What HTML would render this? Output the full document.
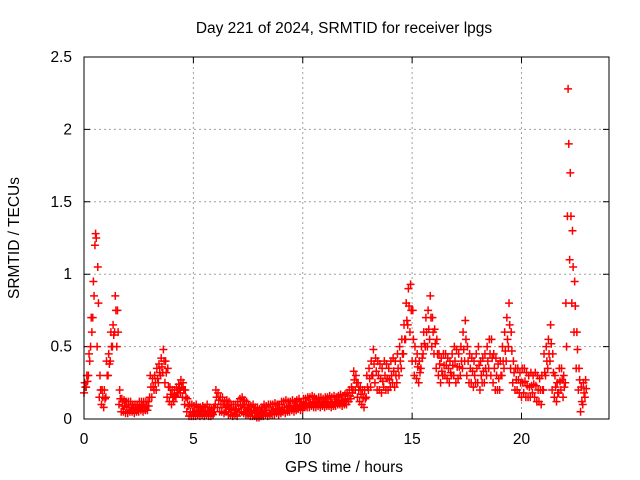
<!DOCTYPE html>
<html><head><meta charset="utf-8"><style>
body{margin:0;background:#fff}
svg{display:block;font-family:"Liberation Sans",sans-serif}
</style></head><body>
<svg id="chart" width="640" height="480" viewBox="0 0 640 480">
<rect width="640" height="480" fill="#fff"/>
<text x="344" y="33" font-size="15.5" text-anchor="middle" fill="#000">Day 221 of 2024, SRMTID for receiver lpgs</text>
<g id="grid"></g>
<g id="axes"></g>
<g id="marks"></g>
<rect x="84" y="57" width="525" height="362" fill="none" stroke="#000" stroke-width="1"/>
<text x="344" y="472" font-size="15.5" text-anchor="middle">GPS time / hours</text>
<text transform="translate(19,238) rotate(-90)" font-size="15.5" text-anchor="middle">SRMTID / TECUs</text>
</svg>
<script>
const xTicks=[0,5,10,15,20];
const yTicks=[0,0.5,1,1.5,2,2.5];
const yTickLabels=["0","0.5","1","1.5","2","2.5"];
const timeStep=0.1;
const upperValues=[0.25,0.3,0.45,0.7,0.95,1.28,1.05,0.3,0.2,0.2,
0.4,0.45,0.6,0.65,0.85,0.75,0.2,0.14,0.13,0.12,
0.12,0.12,0.1,0.1,0.1,0.12,0.12,0.12,0.12,0.12,
0.3,0.28,0.3,0.35,0.38,0.42,0.48,0.4,0.35,0.22,
0.2,0.2,0.22,0.24,0.27,0.25,0.2,0.14,0.1,0.1,
0.09,0.1,0.08,0.08,0.09,0.08,0.1,0.08,0.07,0.08,
0.2,0.18,0.15,0.15,0.12,0.13,0.12,0.1,0.1,0.1,
0.12,0.14,0.15,0.13,0.12,0.1,0.09,0.1,0.08,0.08,
0.07,0.08,0.1,0.09,0.1,0.1,0.1,0.11,0.1,0.1,
0.12,0.12,0.13,0.12,0.12,0.13,0.12,0.13,0.14,0.12,
0.14,0.14,0.15,0.15,0.16,0.15,0.14,0.15,0.15,0.14,
0.15,0.15,0.16,0.15,0.16,0.15,0.16,0.17,0.16,0.17,
0.18,0.2,0.22,0.33,0.3,0.25,0.22,0.2,0.2,0.3,
0.35,0.4,0.48,0.42,0.4,0.38,0.35,0.4,0.38,0.35,
0.4,0.42,0.4,0.45,0.5,0.55,0.65,0.8,0.9,0.93,
0.75,0.5,0.45,0.4,0.5,0.6,0.7,0.75,0.85,0.7,
0.62,0.55,0.45,0.42,0.45,0.45,0.42,0.4,0.45,0.5,
0.48,0.45,0.5,0.6,0.68,0.5,0.45,0.42,0.4,0.45,
0.5,0.4,0.42,0.45,0.5,0.55,0.55,0.45,0.42,0.38,
0.4,0.5,0.6,0.7,0.8,0.6,0.4,0.35,0.35,0.32,
0.35,0.35,0.32,0.3,0.32,0.3,0.32,0.3,0.28,0.3,
0.45,0.5,0.55,0.65,0.45,0.3,0.25,0.35,0.35,0.3,
0.8,2.28,1.7,1.3,0.95,0.6,0.35,0.22,0.25,0.27];
const midValues=[0.22,0.26,0.4,0.6,0.85,1.25,0.8,0.2,0.15,0.14,
0.3,0.38,0.5,0.58,0.75,0.6,0.14,0.09,0.09,0.08,
0.08,0.08,0.07,0.07,0.07,0.08,0.09,0.08,0.09,0.09,
0.22,0.22,0.25,0.28,0.32,0.36,0.4,0.32,0.22,0.17,
0.15,0.16,0.18,0.21,0.22,0.2,0.15,0.09,0.05,0.05,
0.05,0.06,0.05,0.05,0.06,0.05,0.06,0.05,0.04,0.05,
0.15,0.13,0.1,0.1,0.08,0.09,0.07,0.06,0.06,0.06,
0.07,0.09,0.1,0.08,0.07,0.06,0.05,0.06,0.05,0.04,
0.04,0.05,0.06,0.06,0.06,0.06,0.06,0.07,0.07,0.06,
0.08,0.08,0.08,0.09,0.08,0.09,0.09,0.09,0.1,0.09,
0.1,0.11,0.11,0.11,0.12,0.11,0.11,0.12,0.11,0.11,
0.11,0.12,0.12,0.11,0.12,0.12,0.13,0.13,0.12,0.13,
0.14,0.16,0.18,0.27,0.25,0.2,0.17,0.15,0.14,0.22,
0.28,0.3,0.38,0.33,0.3,0.28,0.26,0.3,0.28,0.27,
0.3,0.33,0.3,0.35,0.4,0.45,0.55,0.68,0.78,0.75,
0.55,0.4,0.36,0.32,0.42,0.52,0.6,0.62,0.7,0.6,
0.52,0.45,0.38,0.33,0.37,0.37,0.35,0.32,0.37,0.4,
0.36,0.36,0.4,0.48,0.55,0.4,0.35,0.33,0.3,0.35,
0.37,0.3,0.33,0.35,0.4,0.45,0.42,0.35,0.3,0.28,
0.3,0.4,0.47,0.55,0.65,0.47,0.32,0.27,0.27,0.25,
0.25,0.26,0.23,0.22,0.23,0.24,0.23,0.2,0.2,0.2,
0.32,0.4,0.45,0.52,0.32,0.22,0.18,0.26,0.27,0.22,
0.5,1.9,1.4,1.05,0.78,0.48,0.27,0.12,0.18,0.21];
const lowerValues=[0.18,0.22,0.3,0.5,0.7,1.2,0.5,0.15,0.1,0.08,
0.15,0.3,0.4,0.5,0.6,0.5,0.1,0.05,0.05,0.04,
0.04,0.05,0.05,0.04,0.05,0.05,0.06,0.05,0.06,0.06,
0.15,0.15,0.2,0.2,0.25,0.3,0.32,0.25,0.15,0.12,
0.1,0.12,0.15,0.18,0.18,0.15,0.1,0.05,0.02,0.02,
0.02,0.02,0.03,0.02,0.03,0.02,0.03,0.02,0.02,0.03,
0.1,0.08,0.05,0.05,0.04,0.05,0.03,0.03,0.02,0.03,
0.02,0.05,0.05,0.04,0.03,0.03,0.02,0.02,0.02,0.01,
0.01,0.02,0.02,0.03,0.02,0.03,0.03,0.03,0.04,0.03,
0.04,0.05,0.04,0.05,0.05,0.06,0.05,0.06,0.07,0.06,
0.07,0.08,0.08,0.08,0.09,0.08,0.08,0.09,0.08,0.09,
0.08,0.09,0.09,0.08,0.09,0.09,0.1,0.1,0.09,0.1,
0.1,0.12,0.14,0.2,0.2,0.15,0.12,0.1,0.08,0.15,
0.2,0.22,0.3,0.25,0.2,0.2,0.18,0.22,0.2,0.2,
0.22,0.25,0.22,0.25,0.3,0.35,0.45,0.55,0.65,0.6,
0.4,0.3,0.28,0.25,0.35,0.45,0.5,0.5,0.55,0.5,
0.45,0.35,0.3,0.25,0.3,0.3,0.28,0.25,0.3,0.3,
0.25,0.28,0.3,0.35,0.4,0.3,0.25,0.25,0.22,0.25,
0.25,0.2,0.25,0.25,0.3,0.35,0.3,0.25,0.2,0.2,
0.2,0.3,0.35,0.4,0.5,0.35,0.25,0.2,0.2,0.18,
0.15,0.18,0.15,0.15,0.15,0.18,0.15,0.12,0.12,0.1,
0.2,0.3,0.35,0.4,0.2,0.15,0.12,0.18,0.2,0.15,
0.25,1.4,1.1,0.8,0.6,0.35,0.2,0.05,0.1,0.15];

const X0=84,X1=609,Y0=419,Y1=57,XMAX=24,YMAX=2.5;
function xs(t){return X0+(X1-X0)*t/XMAX;}
function ys(v){return Y0-(Y0-Y1)*v/YMAX;}
const NS="http://www.w3.org/2000/svg";
function mk(tag,attrs,parent){const e=document.createElementNS(NS,tag);for(const k in attrs)e.setAttribute(k,attrs[k]);parent.appendChild(e);return e;}
const grid=document.getElementById('grid'),axes=document.getElementById('axes'),marks=document.getElementById('marks');
xTicks.forEach(t=>{
  const x=xs(t);
  if(t>0){const g=mk('line',{x1:x,x2:x,y1:Y1,y2:Y0,stroke:'#a0a0a0','stroke-dasharray':'2,3'},grid);
  
  }
  const tk=mk('path',{d:`M${x},${Y0}v-6M${x},${Y1}v6`,stroke:'#000'},axes);
  
  
  const l=mk('text',{x:x,y:Y0+25,'font-size':15.5,'text-anchor':'middle'},axes);
  l.textContent=String(t);
  
  
});
yTicks.forEach((v,i)=>{
  const y=ys(v);
  if(v>0&&v<YMAX){const g=mk('line',{x1:X0,x2:X1,y1:y,y2:y,stroke:'#a0a0a0','stroke-dasharray':'2,3'},grid);
  
  }
  const tk=mk('path',{d:`M${X0},${y}h6M${X1},${y}h-6`,stroke:'#000'},axes);
  
  
  const l=mk('text',{x:X0-12,y:y+5,'font-size':15.5,'text-anchor':'end'},axes);
  l.textContent=yTickLabels[i];
  
  
});
function plus(t,v,color){
  const x=xs(t),y=ys(v);
  const p=mk('path',{d:`M${x-4},${y}h8M${x},${y-4}v8`,stroke:color,'stroke-width':1.5,fill:'none'},marks);
  
  
}
lowerValues.forEach((v,i)=>plus(i*timeStep,v,'#ff0000'));
upperValues.forEach((v,i)=>plus(i*timeStep+0.03,v,'#ff0000'));
midValues.forEach((v,i)=>plus(i*timeStep+0.06,v,'#ff0000'));
</script>
</body></html>
